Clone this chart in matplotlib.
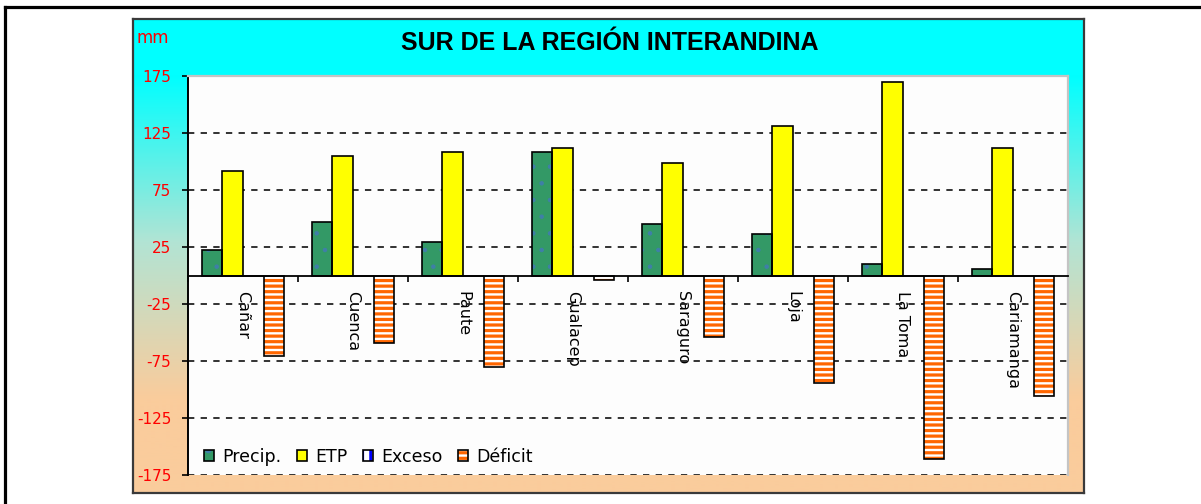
import numpy as np
import matplotlib
matplotlib.use("Agg")
import matplotlib.pyplot as plt
from matplotlib.lines import Line2D
from matplotlib.legend_handler import HandlerTuple

# ---- data ----
categories = ["Cañar", "Cuenca", "Paute", "Gualacep", "Saraguro", "Loja", "La Toma", "Cariamanga"]
precip = [22, 47, 29, 108, 45, 36, 10, 6]
etp = [92, 105, 108, 112, 99, 131, 170, 112]
exceso = [0, 0, 0, 0, 0, 0, 0, 0]
deficit = [-71, -59, -80, -4, -54, -94, -161, -106]
series_names = ["Precip.", "ETP", "Exceso", "Déficit"]
yticks = [175, 125, 75, 25, -25, -75, -125, -175]
title = "SUR DE LA REGIÓN INTERANDINA"
unit = "mm"

W, H = 1201, 504
fig = plt.figure(figsize=(W / 100, H / 100), dpi=100)
fig.patch.set_facecolor("white")

def fx(px):
    return px / W

def fy(py):
    return 1 - py / H

# outer frame lines (top and left)
fig.add_artist(Line2D([fx(5), 1.0], [fy(7), fy(7)], transform=fig.transFigure, color="black", lw=2.3))
fig.add_artist(Line2D([fx(5), fx(5)], [fy(7), 0.0], transform=fig.transFigure, color="black", lw=2.3))

# gradient panel
pl, pr, pt, pb = 133, 1084, 19, 493
bg = fig.add_axes([fx(pl), fy(pb), fx(pr - pl), (pb - pt) / H], zorder=0)
stops = [(0.0, (0, 255, 255)), (0.12, (0, 255, 255)), (0.47, (178, 228, 212)),
         (0.8, (250, 204, 156)), (1.0, (250, 204, 156))]
n = 400
t = np.linspace(0, 1, n)
grad = np.zeros((n, 1, 3))
for c in range(3):
    grad[:, 0, c] = np.interp(t, [s[0] for s in stops], [s[1][c] for s in stops]) / 255.0
bg.imshow(grad, aspect="auto", extent=[0, 1, 0, 1], interpolation="bilinear")
bg.set_xticks([])
bg.set_yticks([])
for s in bg.spines.values():
    s.set_color("#3a3a3a")
    s.set_linewidth(1.6)

# main axes
al, ar, at, ab = 188, 1068, 76, 475
ax = fig.add_axes([fx(al), fy(ab), fx(ar - al), (ab - at) / H], zorder=1)
ax.set_facecolor("#fdfdfd")

x = np.arange(len(categories))
w = 0.1864
offs = [-1.5 * w, -0.5 * w, 0.5 * w, 1.5 * w]

def hatched(vals, off, face, hatch, hcolor, hlw):
    b1 = ax.bar(x + off, vals, w, color=face, hatch=hatch, edgecolor=hcolor, linewidth=0, zorder=3)
    for p in b1:
        if hasattr(p, "set_hatch_linewidth"):
            p.set_hatch_linewidth(hlw)
    b2 = ax.bar(x + off, vals, w, fill=False, edgecolor="black", linewidth=1.2, zorder=4)
    return (b1, b2)

h_pre = hatched(precip, offs[0], "#339966", ".", "#3f7fa8", 0.8)
b_etp = ax.bar(x + offs[1], etp, w, color="#ffff00", edgecolor="black", linewidth=1.2, zorder=3)
h_exc = hatched(exceso, offs[2], "white", "||", "#0000ff", 1.0)
h_def = hatched(deficit, offs[3], "white", "---", "#ff6600", 2.3)

plt.rcParams["hatch.linewidth"] = 2.3

ax.set_xlim(-0.5, len(categories) - 0.5)
ax.set_ylim(-175, 175)

# spines
ax.spines["bottom"].set_position(("data", 0))
ax.spines["bottom"].set_color("black")
ax.spines["bottom"].set_linewidth(1.3)
ax.spines["bottom"].set_zorder(5)
ax.spines["left"].set_color("black")
ax.spines["left"].set_linewidth(1.4)
for k in ["top", "right"]:
    ax.spines[k].set_color("#c4c4c4")
    ax.spines[k].set_linewidth(1.6)

# y axis
ax.set_yticks(yticks)
ax.set_yticklabels([str(v) for v in yticks], color="red", fontsize=11, family="DejaVu Sans")
ax.tick_params(axis="y", direction="out", length=4, width=1.2, color="black", pad=8)
ax.yaxis.grid(True, linestyle=(0, (3.5, 3.5)), color="#222222", linewidth=1.3, zorder=1)
ax.set_axisbelow(True)
for gl, v in zip(ax.get_ygridlines(), yticks):
    if v == 175:
        gl.set_visible(False)

# x axis: boundary ticks + centered labels
ax.set_xticks(np.arange(len(categories) + 1) - 0.5)
ax.set_xticklabels([])
ax.set_xticks(x, minor=True)
ax.set_xticklabels(categories, minor=True, rotation=-90, fontsize=11.5, family="DejaVu Sans",
                   va="top", ha="center")
ax.tick_params(axis="x", which="major", direction="out", length=4, width=1.2, color="black")
ax.tick_params(axis="x", which="minor", length=0, pad=11)

# legend
handles = [h_pre, b_etp, h_exc, h_def]
leg = ax.legend(handles, series_names, handler_map={tuple: HandlerTuple(ndivide=1)},
                loc="center left", bbox_to_anchor=(0.008, 0.045), ncol=4, frameon=False,
                handlelength=0.6, handleheight=0.6, handletextpad=0.45,
                columnspacing=0.9, borderaxespad=0.3, borderpad=0.2,
                prop={"family": "DejaVu Sans", "size": 12.5})

# title and unit label
fig.text(fx(610), fy(43), title, ha="center", va="center", fontsize=18,
         fontweight="bold", family="Liberation Sans", color="black")
fig.text(fx(136), fy(38), unit, ha="left", va="center", fontsize=12, color="red",
         family="DejaVu Sans")

fig.savefig("out.png", dpi=100)
